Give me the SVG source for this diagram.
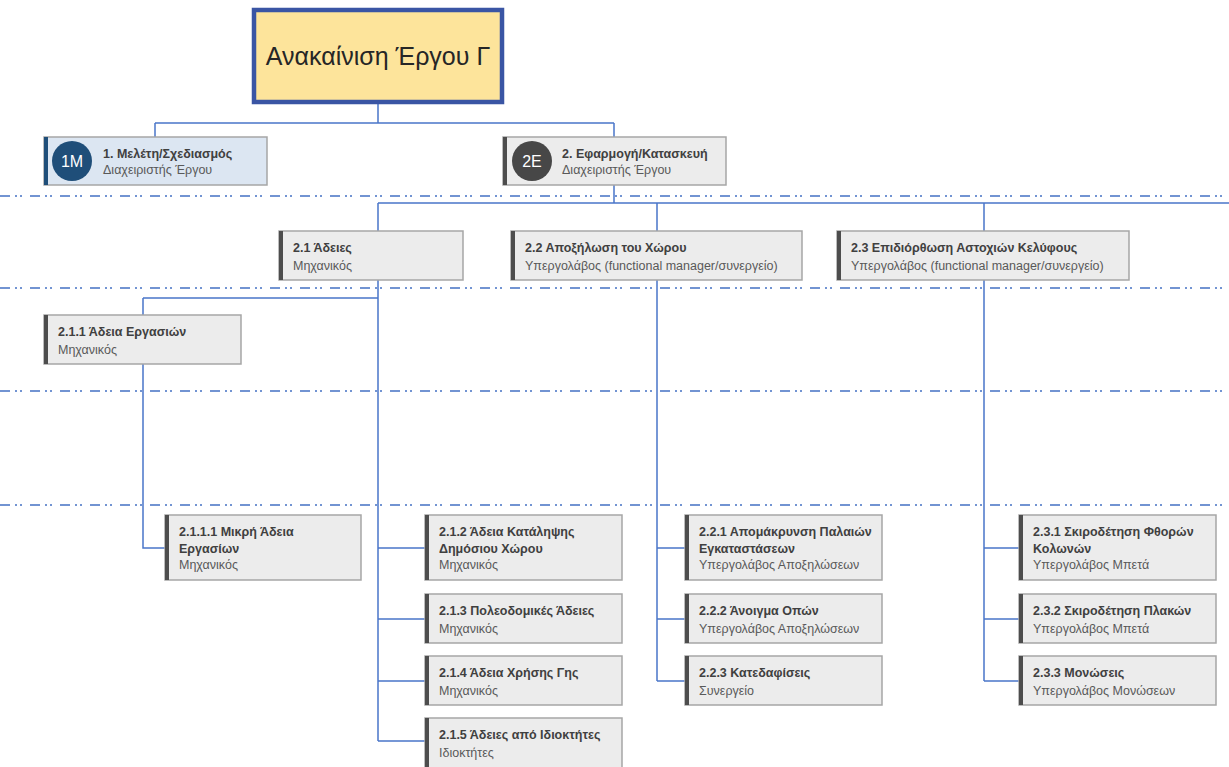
<svg xmlns="http://www.w3.org/2000/svg" width="1229" height="767" viewBox="0 0 1229 767">
  <defs>
    <style>
      .bg { fill: #ffffff; }
      .sep { stroke: #4472c4; stroke-width: 1.5; stroke-dasharray: 10 5 2 3 2 8; fill: none; }
      .link { stroke: #4a76c9; stroke-width: 1.5; fill: none; }
      .box { fill: #ececec; stroke: #a6a6a6; stroke-width: 1.5; }
      .box-blue { fill: #dce6f2; stroke: #a6a6a6; stroke-width: 1.5; }
      .bar { fill: #4d4d4d; }
      .bar-blue { fill: #1f4e79; }
      .t { font-family: "Liberation Sans", Arial, sans-serif; font-size: 12.5px; font-weight: bold; fill: #404040; }
      .s { font-family: "Liberation Sans", Arial, sans-serif; font-size: 12.5px; fill: #595959; }
      .badge { font-family: "Liberation Sans", Arial, sans-serif; font-size: 16px; fill: #ffffff; text-anchor: middle; }
      .root-box { fill: #fde49b; stroke: #3a55a4; stroke-width: 4.5; }
      .root-text { font-family: "Liberation Sans", Arial, sans-serif; font-size: 25px; fill: #262626; text-anchor: middle; }
    </style>
  </defs>

  <rect class="bg" x="0" y="0" width="1229" height="767"/>

  <!-- level separators -->
  <g id="separators">
    <line class="sep" x1="0" y1="196" x2="1229" y2="196"/>
    <line class="sep" x1="0" y1="288" x2="1229" y2="288"/>
    <line class="sep" x1="0" y1="391" x2="1229" y2="391"/>
    <line class="sep" x1="0" y1="505" x2="1229" y2="505"/>
  </g>

  <!-- connectors -->
  <g id="connectors">
    <path class="link" d="M378 104 V123 M155 123 H614 M155 123 V137 M614 123 V137"/>
    <path class="link" d="M614 185 V203 M378 203 H1229 M378 203 V231 M657 203 V231 M984 203 V231"/>
    <path class="link" d="M378 280 V741 M143 298 H378 M143 298 V315 M143 364 V548 H165"/>
    <path class="link" d="M378 548 H425 M378 619 H425 M378 681 H425 M378 741 H425"/>
    <path class="link" d="M657 280 V681 M657 548 H685 M657 619 H685 M657 681 H685"/>
    <path class="link" d="M984 280 V681 M984 548 H1019 M984 619 H1019 M984 681 H1019"/>
  </g>

  <!-- root -->
  <g id="root">
    <rect class="root-box" x="254" y="10" width="248" height="92"/>
    <text class="root-text" x="378" y="65">Ανακαίνιση Έργου Γ</text>
  </g>

  <!-- phase 1 -->
  <g id="n1">
    <rect class="box-blue" x="44" y="137" width="223" height="48"/>
    <rect class="bar-blue" x="44" y="137" width="4" height="48"/>
    <circle cx="72" cy="161" r="20" fill="#1f4e79"/>
    <text class="badge" x="72" y="167">1M</text>
    <text class="t" x="103" y="158">1. Μελέτη/Σχεδιασμός</text>
    <text class="s" x="103" y="174">Διαχειριστής Έργου</text>
  </g>

  <!-- phase 2 -->
  <g id="n2">
    <rect class="box" x="503" y="137" width="223" height="48"/>
    <rect class="bar" x="503" y="137" width="4" height="48"/>
    <circle cx="532" cy="161" r="20" fill="#474747"/>
    <text class="badge" x="532" y="167">2E</text>
    <text class="t" x="562" y="158">2. Εφαρμογή/Κατασκευή</text>
    <text class="s" x="562" y="174">Διαχειριστής Έργου</text>
  </g>

  <!-- level 2 -->
  <g id="n2-1">
    <rect class="box" x="279" y="231" width="184" height="49"/>
    <rect class="bar" x="279" y="231" width="4" height="49"/>
    <text class="t" x="293" y="252">2.1 Άδειες</text>
    <text class="s" x="293" y="270">Μηχανικός</text>
  </g>
  <g id="n2-2">
    <rect class="box" x="511" y="231" width="291" height="49"/>
    <rect class="bar" x="511" y="231" width="4" height="49"/>
    <text class="t" x="525" y="252">2.2 Αποξήλωση του Χώρου</text>
    <text class="s" x="525" y="270">Υπεργολάβος (functional manager/συνεργείο)</text>
  </g>
  <g id="n2-3">
    <rect class="box" x="837" y="231" width="292" height="49"/>
    <rect class="bar" x="837" y="231" width="4" height="49"/>
    <text class="t" x="851" y="252">2.3 Επιδιόρθωση Αστοχιών Κελύφους</text>
    <text class="s" x="851" y="270">Υπεργολάβος (functional manager/συνεργείο)</text>
  </g>

  <!-- level 3 -->
  <g id="n2-1-1">
    <rect class="box" x="44" y="315" width="197" height="49"/>
    <rect class="bar" x="44" y="315" width="4" height="49"/>
    <text class="t" x="58" y="336">2.1.1 Άδεια Εργασιών</text>
    <text class="s" x="58" y="354">Μηχανικός</text>
  </g>

  <!-- level 4 -->
  <g id="n2-1-1-1">
    <rect class="box" x="165" y="515" width="196" height="65"/>
    <rect class="bar" x="165" y="515" width="4" height="65"/>
    <text class="t" x="179" y="536">2.1.1.1 Μικρή Άδεια</text>
    <text class="t" x="179" y="553">Εργασίων</text>
    <text class="s" x="179" y="569">Μηχανικός</text>
  </g>

  <g id="n2-1-2">
    <rect class="box" x="425" y="515" width="197" height="65"/>
    <rect class="bar" x="425" y="515" width="4" height="65"/>
    <text class="t" x="439" y="536">2.1.2 Άδεια Κατάληψης</text>
    <text class="t" x="439" y="553">Δημόσιου Χώρου</text>
    <text class="s" x="439" y="569">Μηχανικός</text>
  </g>
  <g id="n2-1-3">
    <rect class="box" x="425" y="594" width="197" height="49"/>
    <rect class="bar" x="425" y="594" width="4" height="49"/>
    <text class="t" x="439" y="615">2.1.3 Πολεοδομικές Άδειες</text>
    <text class="s" x="439" y="633">Μηχανικός</text>
  </g>
  <g id="n2-1-4">
    <rect class="box" x="425" y="656" width="197" height="49"/>
    <rect class="bar" x="425" y="656" width="4" height="49"/>
    <text class="t" x="439" y="677">2.1.4 Άδεια Χρήσης Γης</text>
    <text class="s" x="439" y="695">Μηχανικός</text>
  </g>
  <g id="n2-1-5">
    <rect class="box" x="425" y="718" width="197" height="52"/>
    <rect class="bar" x="425" y="718" width="4" height="52"/>
    <text class="t" x="439" y="739">2.1.5 Άδειες από Ιδιοκτήτες</text>
    <text class="s" x="439" y="757">Ιδιοκτήτες</text>
  </g>

  <g id="n2-2-1">
    <rect class="box" x="685" y="515" width="197" height="65"/>
    <rect class="bar" x="685" y="515" width="4" height="65"/>
    <text class="t" x="699" y="536">2.2.1 Απομάκρυνση Παλαιών</text>
    <text class="t" x="699" y="553">Εγκαταστάσεων</text>
    <text class="s" x="699" y="569">Υπεργολάβος Αποξηλώσεων</text>
  </g>
  <g id="n2-2-2">
    <rect class="box" x="685" y="594" width="197" height="49"/>
    <rect class="bar" x="685" y="594" width="4" height="49"/>
    <text class="t" x="699" y="615">2.2.2 Άνοιγμα Οπών</text>
    <text class="s" x="699" y="633">Υπεργολάβος Αποξηλώσεων</text>
  </g>
  <g id="n2-2-3">
    <rect class="box" x="685" y="656" width="197" height="49"/>
    <rect class="bar" x="685" y="656" width="4" height="49"/>
    <text class="t" x="699" y="677">2.2.3 Κατεδαφίσεις</text>
    <text class="s" x="699" y="695">Συνεργείο</text>
  </g>

  <g id="n2-3-1">
    <rect class="box" x="1019" y="515" width="197" height="65"/>
    <rect class="bar" x="1019" y="515" width="4" height="65"/>
    <text class="t" x="1033" y="536">2.3.1 Σκιροδέτηση Φθορών</text>
    <text class="t" x="1033" y="553">Κολωνών</text>
    <text class="s" x="1033" y="569">Υπεργολάβος Μπετά</text>
  </g>
  <g id="n2-3-2">
    <rect class="box" x="1019" y="594" width="197" height="49"/>
    <rect class="bar" x="1019" y="594" width="4" height="49"/>
    <text class="t" x="1033" y="615">2.3.2 Σκιροδέτηση Πλακών</text>
    <text class="s" x="1033" y="633">Υπεργολάβος Μπετά</text>
  </g>
  <g id="n2-3-3">
    <rect class="box" x="1019" y="656" width="197" height="49"/>
    <rect class="bar" x="1019" y="656" width="4" height="49"/>
    <text class="t" x="1033" y="677">2.3.3 Μονώσεις</text>
    <text class="s" x="1033" y="695">Υπεργολάβος Μονώσεων</text>
  </g>
</svg>
